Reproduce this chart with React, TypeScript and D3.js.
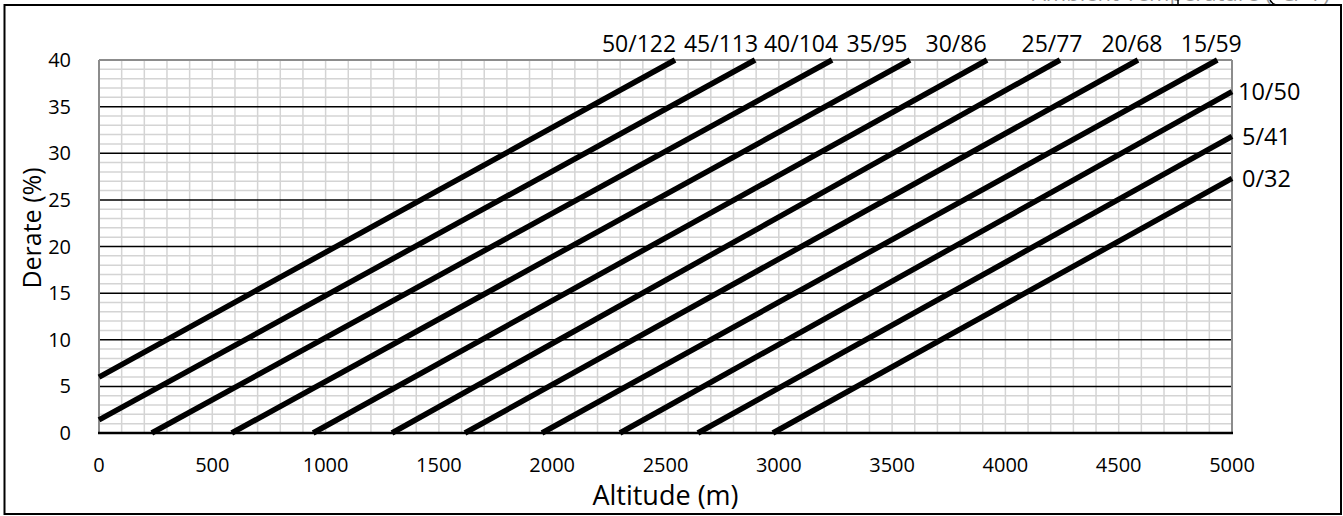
import React from "react";
import * as d3 from "d3";

// Temperature series (°C/°F) – each line read from its start and end points
const seriesLabels = ["50/122", "45/113", "40/104", "35/95", "30/86", "25/77", "20/68", "15/59", "10/50", "5/41", "0/32"];
const startAltitude = [0, 0, 233, 586, 945, 1293, 1615, 1955, 2299, 2643, 2974];
const startDerate = [6.0, 1.4, 0, 0, 0, 0, 0, 0, 0, 0, 0];
const endAltitude = [2542, 2895, 3235, 3579, 3919, 4241, 4585, 4935, 5000, 5000, 5000];
const endDerate = [40, 40, 40, 40, 40, 40, 40, 40, 36.6, 31.8, 27.3];

const xTicks = [0, 500, 1000, 1500, 2000, 2500, 3000, 3500, 4000, 4500, 5000];
const yTicks = [0, 5, 10, 15, 20, 25, 30, 35, 40];

const W = 1343;
const H = 516;
const FONT = "'Open Sans', sans-serif";

// label horizontal shifts for top labels (layout)
const topLabelShift = [-36, -34, -31, -33, -31, -8, -6, -6];

export default function App() {
  const x = d3.scaleLinear().domain([0, 5000]).range([99, 1232]);
  const y = d3.scaleLinear().domain([0, 40]).range([433, 60]);
  const line = d3.line<[number, number]>().x((d) => x(d[0])).y((d) => y(d[1]));

  const minorX = d3.range(100, 5000, 100);
  const minorY = d3.range(1, 40, 1).filter((v) => v % 5 !== 0);
  const majorY = d3.range(5, 40, 5);

  return (
    <svg
      width={W}
      height={H}
      style={{ position: "absolute", left: 0, top: 0, background: "#fff" }}
      fontFamily={FONT}
    >
      <rect x={0} y={0} width={W} height={H} fill="#fff" />
      {/* clipped header remnants */}
      <text x={1330} y={1} textAnchor="end" fontSize={22} fill="#000">Ambient Temperature (°C/°F)</text>
      <rect x={1000} y={0} width={343} height={4} fill="#fff" opacity={0.6} />
      <line x1={1178} x2={1178} y1={0} y2={5} stroke="#000" strokeWidth={1.5} />
      <path d="M1270,0 Q1272,4 1276,5" fill="none" stroke="#000" strokeWidth={1.5} />

      {/* outer frame */}
      <rect x={4.5} y={5} width={1336.5} height={509} fill="none" stroke="#000" strokeWidth={2} />

      {/* minor grid */}
      {minorX.map((v) => (
        <line key={"vx" + v} x1={x(v)} x2={x(v)} y1={y(40)} y2={y(0)} stroke="#d4d4d4" strokeWidth={1.5} />
      ))}
      {minorY.map((v) => (
        <line key={"hy" + v} x1={x(0)} x2={x(5000)} y1={y(v)} y2={y(v)} stroke="#d4d4d4" strokeWidth={1.5} />
      ))}
      {majorY.map((v) => (
        <line key={"my" + v} x1={x(0)} x2={x(5000)} y1={y(v)} y2={y(v)} stroke="#000" strokeWidth={1.5} />
      ))}
      {/* plot borders */}
      <line x1={x(0)} x2={x(5000)} y1={y(40)} y2={y(40)} stroke="#8c8c8c" strokeWidth={2} />
      <line x1={x(0)} x2={x(0)} y1={y(40)} y2={y(0)} stroke="#8c8c8c" strokeWidth={2} />
      <line x1={x(5000)} x2={x(5000)} y1={y(40)} y2={y(0)} stroke="#8c8c8c" strokeWidth={2} />
      <line x1={x(0) - 1} x2={x(5000) + 1} y1={y(0)} y2={y(0)} stroke="#000" strokeWidth={2.5} />

      {/* series */}
      {seriesLabels.map((lab, i) => (
        <path
          key={lab}
          d={line([
            [startAltitude[i], startDerate[i]],
            [endAltitude[i], endDerate[i]],
          ]) as string}
          fill="none"
          stroke="#000"
          strokeWidth={5.5}
          strokeLinecap="butt"
        />
      ))}

      {/* series labels */}
      {seriesLabels.map((lab, i) => {
        if (endDerate[i] >= 40) {
          return (
            <text key={"l" + lab} x={x(endAltitude[i]) + topLabelShift[i]} y={52} textAnchor="middle" fontSize={23}>
              {lab}
            </text>
          );
        }
        return (
          <text key={"l" + lab} x={x(endAltitude[i]) + (i === 8 ? 6 : 10)} y={y(endDerate[i])} dy="0.35em" textAnchor="start" fontSize={23.5}>
            {lab}
          </text>
        );
      })}

      {/* x ticks */}
      {xTicks.map((v) => (
        <text key={"xt" + v} x={x(v)} y={472} textAnchor="middle" fontSize={20}>
          {v}
        </text>
      ))}
      {/* y ticks */}
      {yTicks.map((v) => (
        <text key={"yt" + v} x={71} y={y(v)} dy="0.35em" textAnchor="end" fontSize={20}>
          {v}
        </text>
      ))}

      {/* axis titles */}
      <text x={(x(0) + x(5000)) / 2} y={505} textAnchor="middle" fontSize={27}>
        Altitude (m)
      </text>
      <text transform={`translate(41,228) rotate(-90)`} textAnchor="middle" fontSize={25}>
        Derate (%)
      </text>
    </svg>
  );
}
